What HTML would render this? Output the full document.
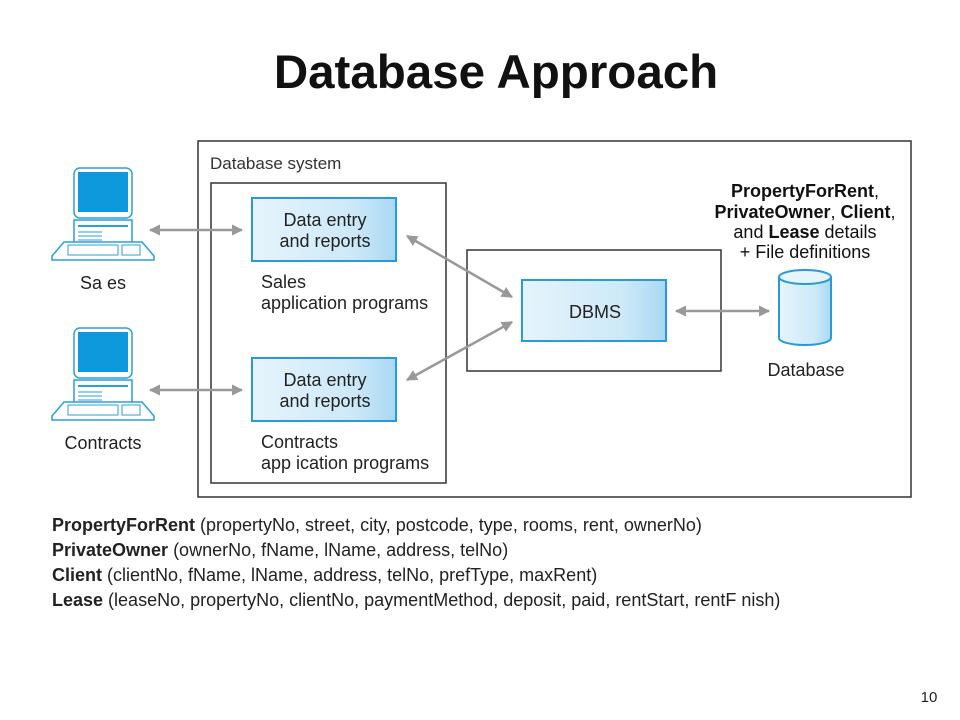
<!DOCTYPE html>
<html><head><style>
body{margin:0;background:#fff;}
svg{display:block;font-family:"Liberation Sans",Arial,sans-serif;}
</style></head><body>
<svg width="960" height="720" viewBox="0 0 960 720">
<defs>
<linearGradient id="g" x1="0" x2="1" y1="0" y2="0">
<stop offset="0" stop-color="#e6f4fc"/><stop offset="0.7" stop-color="#cde9f8"/><stop offset="1" stop-color="#a9d8f3"/>
</linearGradient>
<marker id="a" viewBox="0 0 10 10" refX="9" refY="5" markerWidth="4.5" markerHeight="4.5" orient="auto-start-reverse">
<path d="M0,0L10,5L0,10z" fill="#999"/></marker>
<g id="pc">
<rect x="22" y="0" width="58" height="50" rx="6" fill="#fff" stroke="#29a0d8" stroke-width="1.5"/>
<rect x="26" y="4" width="50" height="40" fill="#0d99db"/>
<rect x="22" y="52" width="58" height="28" fill="#fff" stroke="#29a0d8" stroke-width="1.5"/>
<line x1="26" y1="58" x2="76" y2="58" stroke="#29a0d8" stroke-width="2"/>
<line x1="26" y1="64" x2="50" y2="64" stroke="#29a0d8"/><line x1="26" y1="68" x2="50" y2="68" stroke="#29a0d8"/><line x1="26" y1="72" x2="50" y2="72" stroke="#29a0d8"/>
<path d="M12,74 H90 L102,88 V92 H0 V88 Z" fill="#fff" stroke="#29a0d8" stroke-width="1.5"/>
<rect x="16" y="77" width="50" height="10" fill="none" stroke="#29a0d8"/>
<rect x="70" y="77" width="18" height="10" fill="none" stroke="#29a0d8"/>
</g>
</defs>
<text x="496" y="88" font-size="47.5" font-weight="bold" text-anchor="middle" fill="#111">Database Approach</text>
<rect x="198" y="141" width="713" height="356" fill="none" stroke="#333" stroke-width="1.5"/>
<text x="210" y="169" font-size="17" fill="#333">Database system</text>
<rect x="211" y="183" width="235" height="300" fill="none" stroke="#333" stroke-width="1.5"/>
<rect x="467" y="250" width="254" height="121" fill="none" stroke="#333" stroke-width="1.5"/>
<use href="#pc" x="52" y="168"/>
<use href="#pc" x="52" y="328"/>
<text x="103" y="289" font-size="18" text-anchor="middle" fill="#222">Sa es</text>
<text x="103" y="449" font-size="18" text-anchor="middle" fill="#222">Contracts</text>
<rect x="252" y="198" width="144" height="63" fill="url(#g)" stroke="#2a9ad6" stroke-width="2"/>
<text x="325" y="226" font-size="18" text-anchor="middle" fill="#222">Data entry</text>
<text x="325" y="247" font-size="18" text-anchor="middle" fill="#222">and reports</text>
<rect x="252" y="358" width="144" height="63" fill="url(#g)" stroke="#2a9ad6" stroke-width="2"/>
<text x="325" y="386" font-size="18" text-anchor="middle" fill="#222">Data entry</text>
<text x="325" y="407" font-size="18" text-anchor="middle" fill="#222">and reports</text>
<text x="261" y="288" font-size="18" fill="#222">Sales</text>
<text x="261" y="309" font-size="18" fill="#222">application programs</text>
<text x="261" y="448" font-size="18" fill="#222">Contracts</text>
<text x="261" y="469" font-size="18" fill="#222">app ication programs</text>
<rect x="522" y="280" width="144" height="61" fill="url(#g)" stroke="#2a9ad6" stroke-width="2"/>
<text x="595" y="318" font-size="18" text-anchor="middle" fill="#222">DBMS</text>
<g stroke="#999" stroke-width="2.5" fill="none">
<line x1="150" y1="230" x2="242" y2="230" marker-start="url(#a)" marker-end="url(#a)"/>
<line x1="150" y1="390" x2="242" y2="390" marker-start="url(#a)" marker-end="url(#a)"/>
<line x1="407" y1="236" x2="512" y2="297" marker-start="url(#a)" marker-end="url(#a)"/>
<line x1="407" y1="380" x2="512" y2="322" marker-start="url(#a)" marker-end="url(#a)"/>
<line x1="676" y1="311" x2="769" y2="311" marker-start="url(#a)" marker-end="url(#a)"/>
</g>
<path d="M779,277 V338 A26,7 0 0 0 831,338 V277" fill="url(#g)" stroke="#2a9ad6" stroke-width="2"/>
<ellipse cx="805" cy="277" rx="26" ry="7" fill="#e6f4fc" stroke="#2a9ad6" stroke-width="2"/>
<text x="806" y="376" font-size="18" text-anchor="middle" fill="#222">Database</text>
<g font-size="18" text-anchor="middle" fill="#111">
<text x="805" y="197"><tspan font-weight="bold">PropertyForRent</tspan>,</text>
<text x="805" y="218"><tspan font-weight="bold">PrivateOwner</tspan>, <tspan font-weight="bold">Client</tspan>,</text>
<text x="805" y="238">and <tspan font-weight="bold">Lease</tspan> details</text>
<text x="805" y="258">+ File definitions</text>
</g>
<g font-size="18" fill="#222">
<text x="52" y="531"><tspan font-weight="bold">PropertyForRent</tspan> (propertyNo, street, city, postcode, type, rooms, rent, ownerNo)</text>
<text x="52" y="556"><tspan font-weight="bold">PrivateOwner</tspan> (ownerNo, fName, lName, address, telNo)</text>
<text x="52" y="581"><tspan font-weight="bold">Client</tspan> (clientNo, fName, lName, address, telNo, prefType, maxRent)</text>
<text x="52" y="606"><tspan font-weight="bold">Lease</tspan> (leaseNo, propertyNo, clientNo, paymentMethod, deposit, paid, rentStart, rentF nish)</text>
</g>
<text x="929" y="702" font-size="15" text-anchor="middle" fill="#222">10</text>
</svg>
</body></html>
